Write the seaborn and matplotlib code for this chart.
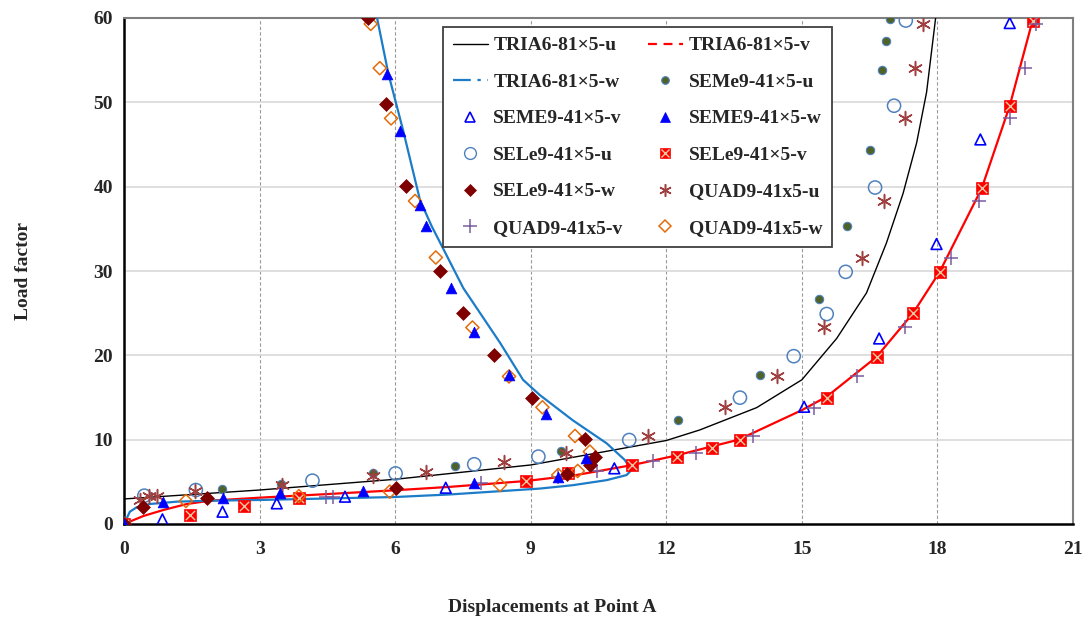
import matplotlib
matplotlib.use("Agg")
import matplotlib.pyplot as plt
import seaborn as sns
import pandas as pd
from matplotlib.lines import Line2D

# ---------------- data ----------------
tria_u_x = [0, 3, 6, 9, 12, 12.74, 14, 15, 15.77, 16.43, 16.87, 17.24, 17.54, 17.76, 17.96]
tria_u_y = [2.97, 4.03, 5.3, 7.0, 9.9, 11.15, 13.8, 17.1, 22.0, 27.4, 33.3, 39.2, 45.2, 51.2, 60]

tria_v_x = [0, 0.43, 0.87, 1.39, 1.9, 3, 4.5, 6, 7.2, 8.9, 10, 11.26, 12.2, 13.6, 15, 15.55,
            16.65, 17.46, 18.05, 18.98, 19.6, 20.1]
tria_v_y = [0, 0.95, 1.66, 2.37, 2.76, 3.12, 3.55, 4.0, 4.4, 5.1, 5.8, 7.0, 8.1, 10.0, 13.5, 15.1,
            19.8, 25.0, 29.9, 39.8, 49.6, 59.6]

tria_w_x = [0, 0.13, 0.28, 0.57, 1.17, 1.9, 3, 6, 7.2, 9.2, 9.93, 10.68, 11.12, 11.23, 11.08,
            10.68, 9.93, 9.2, 8.83, 8.32, 7.51, 6.81, 6.55, 6.18, 5.85, 5.6]
tria_w_y = [0, 1.46, 1.98, 2.37, 2.65, 2.76, 2.85, 3.2, 3.5, 4.2, 4.6, 5.2, 5.8, 6.4, 7.6,
            9.57, 12.3, 15.3, 17.1, 21.5, 27.96, 35.3, 38.4, 46.6, 53.4, 60]

seme_u_x = [0, 2.16, 3.47, 5.5, 7.32, 9.68, 12.26, 14.07, 15.38, 16.01, 16.5, 16.78, 16.87, 16.96]
seme_u_y = [0, 4.1, 4.8, 6.0, 6.9, 8.66, 12.3, 17.7, 26.7, 35.3, 44.3, 53.8, 57.3, 59.9]

seme_v_x = [0, 0.85, 2.18, 3.38, 4.89, 7.12, 10.85, 15.05, 16.71, 17.98, 18.95, 19.6]
seme_v_y = [0, 0.55, 1.46, 2.45, 3.24, 4.3, 6.6, 13.9, 22.0, 33.2, 45.6, 59.4]

seme_w_x = [0, 0.87, 2.2, 3.45, 5.28, 7.75, 9.61, 10.22, 9.34, 8.52, 7.75, 7.23, 6.68, 6.55, 6.1, 5.83]
seme_w_y = [0, 2.65, 3.05, 3.64, 3.91, 4.83, 5.6, 7.87, 13.1, 17.7, 22.8, 27.96, 35.3, 37.8, 46.6, 53.4]

sele_u_x = [0, 0.45, 1.59, 4.17, 6.01, 7.75, 9.17, 11.18, 13.63, 14.82, 15.55, 15.97, 16.62, 17.04, 17.3]
sele_u_y = [0, 3.36, 4.03, 5.14, 6.0, 7.08, 7.99, 9.96, 14.98, 19.9, 24.9, 29.9, 39.9, 49.6, 59.7]

sele_v_x = [0, 1.45, 2.66, 3.87, 8.9, 9.83, 11.25, 12.23, 13.02, 13.64, 15.55, 16.67, 17.46, 18.05,
            18.98, 19.6, 20.12]
sele_v_y = [0, 1.07, 2.14, 3.1, 5.05, 6.0, 7.0, 7.99, 8.98, 9.96, 14.98, 19.85, 25.0, 29.93,
            39.8, 49.6, 59.6]

sele_w_x = [0, 0.43, 1.84, 6.03, 9.81, 10.31, 10.42, 10.2, 9.02, 8.19, 7.51, 7.0, 6.25, 5.8, 5.4]
sele_w_y = [0, 2.05, 3.05, 4.31, 5.9, 7.0, 7.9, 10.05, 15.0, 20.05, 25.0, 30.05, 40.1, 49.8, 60]

quad_u_x = [0, 0.35, 0.55, 0.72, 1.57, 3.49, 5.5, 6.68, 8.41, 9.79, 11.6, 13.31, 14.44, 15.49,
            16.34, 16.81, 17.28, 17.5, 17.67]
quad_u_y = [0, 2.85, 3.32, 3.32, 3.9, 4.63, 5.69, 6.2, 7.4, 8.46, 10.44, 13.84, 17.5, 23.4,
            31.6, 38.35, 48.2, 54.1, 59.3]

quad_v_x = [0, 4.48, 4.63, 7.91, 9.6, 10.47, 11.71, 12.65, 13.92, 15.27, 16.23, 17.29, 18.3,
            18.92, 19.6, 19.93, 20.19]
quad_v_y = [0, 3.24, 3.24, 4.83, 5.6, 6.33, 7.47, 8.46, 10.48, 13.8, 17.5, 23.4, 31.6,
            38.3, 48.1, 54.05, 59.3]

quad_w_x = [0, 1.37, 3.87, 5.88, 8.32, 9.61, 10.04, 10.31, 9.98, 9.26, 8.52, 7.71, 6.9, 6.44,
            5.91, 5.66, 5.46]
quad_w_y = [0, 2.73, 3.3, 3.84, 4.63, 5.81, 6.29, 8.58, 10.44, 13.84, 17.5, 23.3, 31.6, 38.3,
            48.1, 54.05, 59.3]

x_ticks = [0, 3, 6, 9, 12, 15, 18, 21]
y_ticks = [0, 10, 20, 30, 40, 50, 60]

labels = {
    "tu": "TRIA6-81\u00d75-u", "tv": "TRIA6-81\u00d75-v", "tw": "TRIA6-81\u00d75-w",
    "mu": "SEMe9-41\u00d75-u", "mv": "SEME9-41\u00d75-v", "mw": "SEME9-41\u00d75-w",
    "lu": "SELe9-41\u00d75-u", "lv": "SELe9-41\u00d75-v", "lw": "SELe9-41\u00d75-w",
    "qu": "QUAD9-41x5-u", "qv": "QUAD9-41x5-v", "qw": "QUAD9-41x5-w",
}

# ---------------- style ----------------
sns.set_style("white")
plt.rcParams["font.family"] = ["Liberation Serif", "DejaVu Serif"]
plt.rcParams["font.weight"] = "bold"
FS = 14

C_BLACK = "#000000"
C_RED = "#FF0000"
C_BLUE_LINE = "#1C7CC8"
C_OLIVE = "#4F6228"
C_OLIVE_EDGE = "#4F81BD"
C_BLUE = "#0000FF"
C_CIRC = "#4F81BD"
C_DRED = "#7F0000"
C_AST = "#A04040"
C_PLUS = "#7A5C9E"
C_ORANGE = "#E46C0A"
C_XOVER = "#E8C8A0"

fig = plt.figure(figsize=(10.89, 6.19), dpi=100)
ax = fig.add_axes([124 / 1089, 1 - 524 / 619, 949 / 1089, 506 / 619])

# curves
sns.lineplot(x=tria_u_x, y=tria_u_y, sort=False, estimator=None, color=C_BLACK, lw=1.0, ax=ax, zorder=3)
sns.lineplot(x=tria_v_x, y=tria_v_y, sort=False, estimator=None, color=C_RED, lw=1.6, ax=ax, zorder=3)
sns.lineplot(x=tria_w_x, y=tria_w_y, sort=False, estimator=None, color=C_BLUE_LINE, lw=1.6, ax=ax, zorder=3)

AST = (6, 2, 0)

def pts(x, y, **kw):
    sns.scatterplot(x=x, y=y, ax=ax, zorder=4, **kw)

pts(seme_u_x, seme_u_y, marker="o", s=36, color=C_OLIVE, edgecolor=C_OLIVE_EDGE, linewidth=0.8)
pts(sele_u_x, sele_u_y, marker="o", s=90, facecolor="none", edgecolor=C_CIRC, linewidth=1.1)
pts(seme_v_x, seme_v_y, marker="^", s=60, facecolor="none", edgecolor=C_BLUE, linewidth=1.2)
pts(sele_v_x, sele_v_y, marker="s", s=75, color=C_RED, edgecolor=C_RED, linewidth=0.5)
pts(sele_v_x, sele_v_y, marker="x", s=45, color=C_XOVER, linewidth=1.0)
pts(quad_u_x, quad_u_y, marker=AST, s=100, color=C_AST, linewidth=1.1)
pts(quad_v_x, quad_v_y, marker="+", s=110, color=C_PLUS, linewidth=1.1)
pts(quad_w_x, quad_w_y, marker="D", s=45, facecolor="none", edgecolor=C_ORANGE, linewidth=1.1)
pts(sele_w_x, sele_w_y, marker="D", s=50, color=C_DRED, edgecolor=C_DRED, linewidth=0.5)
pts(seme_w_x, seme_w_y, marker="^", s=60, color=C_BLUE, edgecolor=C_BLUE, linewidth=0.5)

ax.set_xlim(0, 21)
ax.set_ylim(0, 60)
ax.set_xticks(x_ticks)
ax.set_yticks(y_ticks)
ax.set_xticklabels([str(t) for t in x_ticks], fontsize=FS, fontweight="bold")
ax.set_yticklabels([str(t) for t in y_ticks], fontsize=FS, fontweight="bold")
ax.tick_params(axis="both", direction="in", length=5, width=1.2, color="black")
ax.tick_params(axis="x", pad=12)
ax.tick_params(axis="y", pad=8)

ax.grid(False)
for xv in x_ticks[1:-1]:
    ax.axvline(xv, color="#9A9A9A", lw=0.8, ls=(0, (3, 2)), zorder=1)
for yv in y_ticks[1:-1]:
    ax.axhline(yv, color="#D9D9D9", lw=1.2, zorder=1)

for side in ["left", "bottom"]:
    ax.spines[side].set_color("black")
    ax.spines[side].set_linewidth(1.8)
for side in ["top", "right"]:
    ax.spines[side].set_color("#7F7F7F")
    ax.spines[side].set_linewidth(1.5)

ax.set_xlabel("Displacements at Point A", fontsize=FS, fontweight="bold")
ax.set_ylabel("Load factor", fontsize=FS, fontweight="bold")
ax.xaxis.set_label_coords(0.451, -0.148)
ax.yaxis.set_label_coords(-0.097, 0.5)

# legend
def mk(marker, mfc, mec, ms, mew=1.1):
    return Line2D([], [], ls="none", marker=marker, mfc=mfc, mec=mec, ms=ms, mew=mew)

h = {
    "tu": Line2D([], [], color=C_BLACK, lw=1.0),
    "tv": Line2D([], [], color=C_RED, lw=1.6, ls=(0, (4, 3))),
    "tw": Line2D([], [], color=C_BLUE_LINE, lw=1.6, ls=(0, (8, 3, 1.5, 3))),
    "mu": mk("o", C_OLIVE, C_OLIVE_EDGE, 5.5, 0.8),
    "mv": mk("^", "none", C_BLUE, 7, 1.2),
    "mw": mk("^", C_BLUE, C_BLUE, 7, 0.5),
    "lu": mk("o", "none", C_CIRC, 8.5, 1.0),
    "lv": (mk("s", C_RED, C_RED, 7.5, 0.5), mk("x", C_XOVER, C_XOVER, 6, 1.0)),
    "lw": mk("D", C_DRED, C_DRED, 6.5, 0.5),
    "qu": mk(AST, C_AST, C_AST, 9, 1.1),
    "qv": mk("+", C_PLUS, C_PLUS, 10, 1.1),
    "qw": mk("D", "none", C_ORANGE, 6.5, 1.1),
}
order = ["tu", "tw", "mv", "lu", "lw", "qv", "tv", "mu", "mw", "lv", "qu", "qw"]
leg = ax.legend([h[k] for k in order], [labels[k] for k in order], ncol=2,
                loc="upper left", bbox_to_anchor=(0.336, 0.982), borderaxespad=0,
                prop={"family": ["Liberation Serif", "DejaVu Serif"], "weight": "bold", "size": FS},
                frameon=True, fancybox=False, framealpha=1, edgecolor="#404040",
                handlelength=1.8, handletextpad=0.3, columnspacing=1.3,
                labelspacing=0.97, borderpad=0.5)
leg.get_frame().set_linewidth(1.3)
leg.set_zorder(10)

fig.savefig("out.png", dpi=100)
